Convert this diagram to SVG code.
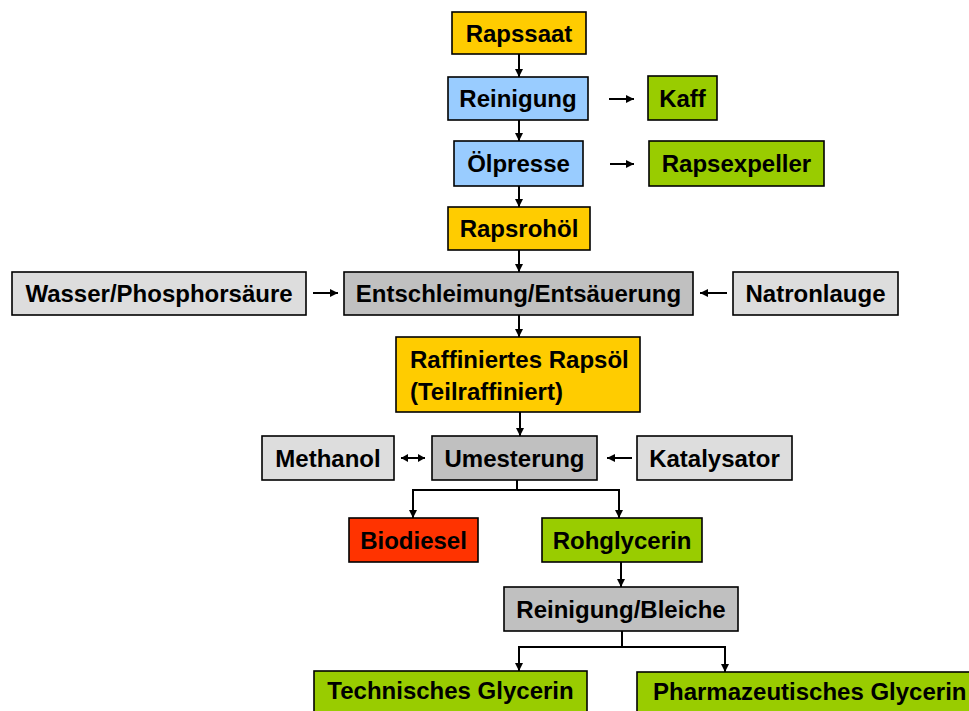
<svg xmlns="http://www.w3.org/2000/svg" width="969" height="711" viewBox="0 0 969 711">
  <defs>
    <style>
      .box { stroke: #000; stroke-width: 1.6; }
      .raw { fill: #FFCC00; }
      .mech { fill: #99CCFF; }
      .prod { fill: #99CC00; }
      .aux { fill: #DDDDDD; }
      .proc { fill: #C0C0C0; }
      .fuel { fill: #FF3300; }
      text { font-family: "Liberation Sans", Arial, sans-serif; font-weight: bold; font-size: 24px; fill: #000; }
      .c { text-anchor: middle; }
      .edge { fill: none; stroke: #000; stroke-width: 2; }
      .arrow { marker-end: url(#head); }
    </style>
    <marker id="head" viewBox="0 0 8 8" refX="8" refY="4" markerWidth="8" markerHeight="8" markerUnits="userSpaceOnUse" orient="auto-start-reverse">
      <path d="M0,0 L8,4 L0,8 z" fill="#000"/>
    </marker>
    <marker id="small" viewBox="0 0 7 8" refX="7" refY="4" markerWidth="7" markerHeight="8" markerUnits="userSpaceOnUse" orient="auto-start-reverse">
      <path d="M0,0 L7,4 L0,8 z" fill="#000"/>
    </marker>
  </defs>

  <rect width="969" height="711" fill="#fff"/>

  <!-- connectors -->
  <g id="connectors">
    <line class="edge arrow" x1="519" y1="54" x2="519" y2="77"/>
    <line class="edge arrow" x1="519" y1="120" x2="519" y2="141"/>
    <line class="edge arrow" x1="519" y1="186" x2="519" y2="207"/>
    <line class="edge arrow" x1="519" y1="250" x2="519" y2="272"/>
    <line class="edge arrow" x1="519" y1="315" x2="519" y2="337"/>
    <line class="edge arrow" x1="520" y1="412" x2="520" y2="436"/>

    <line class="edge arrow" x1="609" y1="99" x2="634" y2="99"/>
    <line class="edge arrow" x1="610" y1="164" x2="634" y2="164"/>
    <line class="edge arrow" x1="313" y1="293" x2="338" y2="293"/>
    <line class="edge arrow" x1="727" y1="293" x2="700" y2="293"/>
    <line class="edge" x1="401" y1="458" x2="425" y2="458" marker-start="url(#small)" marker-end="url(#small)"/>
    <line class="edge arrow" x1="632" y1="458" x2="607" y2="458"/>

    <polyline class="edge" points="517,480 517,490"/>
    <polyline class="edge arrow" points="517,490 413,490 413,518"/>
    <polyline class="edge arrow" points="517,490 619,490 619,518"/>
    <line class="edge arrow" x1="621" y1="562" x2="621" y2="587"/>

    <polyline class="edge" points="622,631 622,647"/>
    <polyline class="edge arrow" points="622,647 519,647 519,671"/>
    <polyline class="edge arrow" points="622,647 725,647 725,672"/>
  </g>

  <!-- nodes -->
  <g id="rapssaat">
    <rect class="box raw" x="452" y="12" width="134" height="42"/>
    <text class="c" x="519" y="41.5">Rapssaat</text>
  </g>
  <g id="reinigung">
    <rect class="box mech" x="448" y="77" width="140" height="43"/>
    <text class="c" x="518" y="107">Reinigung</text>
  </g>
  <g id="kaff">
    <rect class="box prod" x="648" y="76" width="69" height="44"/>
    <text class="c" x="682.5" y="106.5">Kaff</text>
  </g>
  <g id="oelpresse">
    <rect class="box mech" x="454" y="141" width="129" height="45"/>
    <text class="c" x="518.5" y="172">Ölpresse</text>
  </g>
  <g id="rapsexpeller">
    <rect class="box prod" x="649" y="141" width="175" height="45"/>
    <text class="c" x="736.5" y="172">Rapsexpeller</text>
  </g>
  <g id="rapsrohoel">
    <rect class="box raw" x="448" y="207" width="142" height="43"/>
    <text class="c" x="519" y="237">Rapsrohöl</text>
  </g>
  <g id="wasser">
    <rect class="box aux" x="12" y="272" width="294" height="43"/>
    <text class="c" x="159" y="302">Wasser/Phosphorsäure</text>
  </g>
  <g id="entschleimung">
    <rect class="box proc" x="344" y="272" width="349" height="43"/>
    <text class="c" x="518.5" y="302">Entschleimung/Entsäuerung</text>
  </g>
  <g id="natronlauge">
    <rect class="box aux" x="733" y="272" width="165" height="43"/>
    <text class="c" x="815.5" y="302">Natronlauge</text>
  </g>
  <g id="raffiniert">
    <rect class="box raw" x="396" y="337" width="244" height="75"/>
    <text x="410" y="368">Raffiniertes Rapsöl</text>
    <text x="410" y="400">(Teilraffiniert)</text>
  </g>
  <g id="methanol">
    <rect class="box aux" x="262" y="436" width="132" height="44"/>
    <text class="c" x="328" y="466.5">Methanol</text>
  </g>
  <g id="umesterung">
    <rect class="box proc" x="432" y="436" width="165" height="44"/>
    <text class="c" x="514.5" y="466.5">Umesterung</text>
  </g>
  <g id="katalysator">
    <rect class="box aux" x="637" y="436" width="155" height="44"/>
    <text class="c" x="714.5" y="466.5">Katalysator</text>
  </g>
  <g id="biodiesel">
    <rect class="box fuel" x="349" y="518" width="129" height="44"/>
    <text class="c" x="413.5" y="548.5">Biodiesel</text>
  </g>
  <g id="rohglycerin">
    <rect class="box prod" x="542" y="518" width="160" height="44"/>
    <text class="c" x="622" y="548.5">Rohglycerin</text>
  </g>
  <g id="bleiche">
    <rect class="box proc" x="504" y="587" width="234" height="44"/>
    <text class="c" x="621" y="617.5">Reinigung/Bleiche</text>
  </g>
  <g id="technisch">
    <rect class="box prod" x="314" y="671" width="273" height="46"/>
    <text class="c" x="450.5" y="699">Technisches Glycerin</text>
  </g>
  <g id="pharma">
    <rect class="box prod" x="637" y="672" width="345" height="46"/>
    <text x="653" y="700">Pharmazeutisches Glycerin</text>
  </g>
</svg>
